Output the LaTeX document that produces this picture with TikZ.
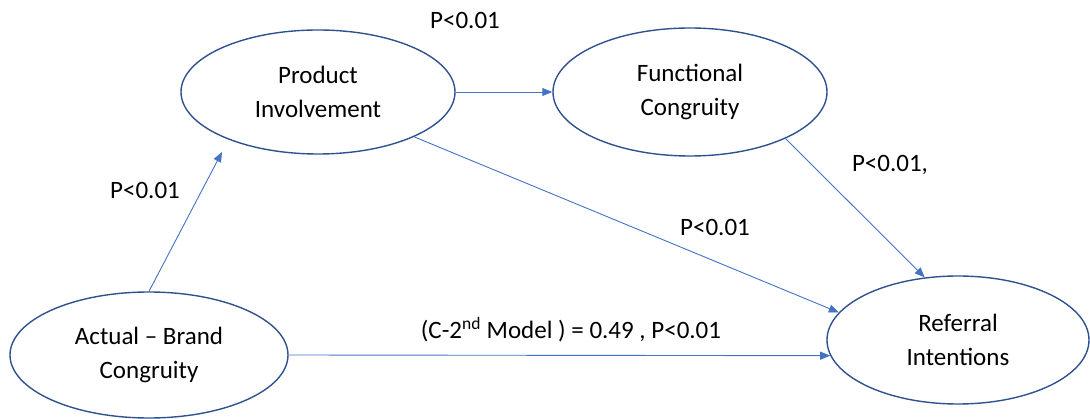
\documentclass[tikz,border=0pt]{standalone}
\usepackage{fontspec}
\setmainfont{Carlito}
\usetikzlibrary{shapes.geometric,arrows.meta}
\definecolor{ellline}{HTML}{2F528F}
\definecolor{arrline}{HTML}{4472C4}
\tikzset{
  x=1pt,y=-1pt,
  oval/.style={ellipse,draw=ellline,line width=1.4pt,inner sep=0pt,align=center,
    font=\fontsize{25}{34}\selectfont},
  conn/.style={draw=arrline,line width=0.9pt,-{Triangle[length=10pt,width=8pt]}},
  lbl/.style={font=\fontsize{25}{30}\selectfont,inner sep=0pt}
}
\begin{document}
\begin{tikzpicture}
\useasboundingbox (0,0) rectangle (1090,419);
\node[oval,minimum width=278pt,minimum height=126pt] (act) at (149,355) {Actual -- Brand\\Congruity};
\node[oval,minimum width=274pt,minimum height=124pt] (prod) at (318,92) {Product\\Involvement};
\node[oval,minimum width=274pt,minimum height=128pt] (func) at (690,92) {Functional\\Congruity};
\node[oval,minimum width=262pt,minimum height=128pt] (ref) at (958,340) {Referral\\Intentions};
\coordinate (ptip) at (222,152);
\draw[conn] (act.north) -- (ptip);
\draw[conn] (prod.east) -- (func.west);
\draw[conn] (prod.-25) -- (ref.167);
\draw[conn] (func.-26) -- (ref.118);
\draw[conn] (act.east) -- (ref.187);
\node[lbl] (l1) at (465,20) {P<0.01};
\node[lbl] (l2) at (145,190) {P<0.01};
\node[lbl] (l3) at (890,165) {P<0.01,};
\node[lbl] (l4) at (715,227) {P<0.01};
\node[lbl] (l5) at (571,330) {(C-2\textsuperscript{nd} Model ) = 0.49 , P<0.01};
\end{tikzpicture}
\end{document}
